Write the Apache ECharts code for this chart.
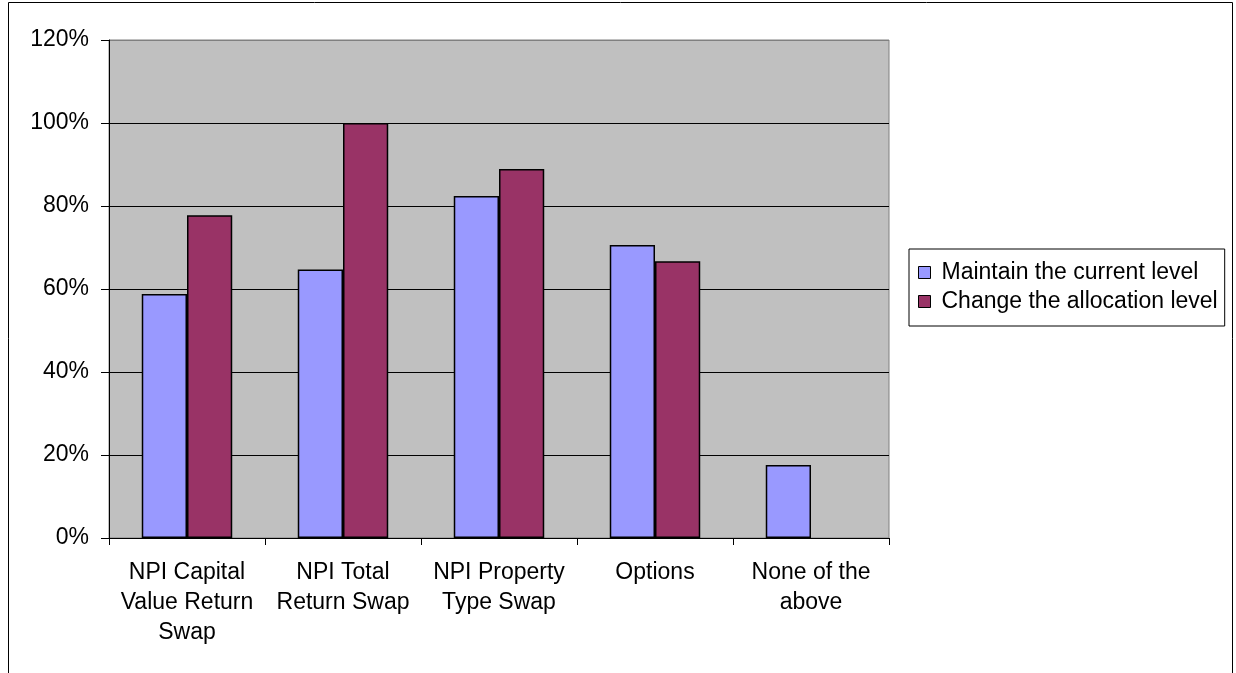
<!DOCTYPE html>
<html><head><meta charset="utf-8">
<script src="https://cdn.jsdelivr.net/npm/echarts@6/dist/echarts.min.js"></script>
<style>html,body{margin:0;padding:0;background:#fff}#c{width:1236px;height:673px}</style>
</head><body><div id="c"></div>
<script>
var categories = ["NPI Capital\nValue Return\nSwap", "NPI Total\nReturn Swap", "NPI Property\nType Swap", "Options", "None of the\nabove"];
var maintainValues = [58.8, 64.7, 82.4, 70.6, 17.6];
var changeValues = [77.8, 100, 88.9, 66.7, 0];
var seriesNames = ["Maintain the current level", "Change the allocation level"];
var yTicks = { min: 0, max: 120, interval: 20 };

var font = "'Liberation Sans', Arial, sans-serif";
function withZeroHidden(arr) {
  return arr.map(function (v) { return v === 0 ? { value: v, itemStyle: { borderWidth: 0 } } : v; });
}
var chart = echarts.init(document.getElementById('c'));
chart.setOption({
  animation: false,
  backgroundColor: '#fff',
  graphic: [{ type: 'rect', shape: { x: 8.5, y: 2.5, width: 1224, height: 700 }, style: { fill: 'none', stroke: '#000', lineWidth: 1 }, silent: true, z: 10 }],
  grid: { left: 109, top: 40, right: 347, bottom: 135, show: true, backgroundColor: '#C0C0C0', borderColor: '#808080', borderWidth: 1 },
  legend: {
    orient: 'vertical', left: 909, top: 249,
    padding: [12, 7, 13, 9], itemGap: 6,
    borderColor: '#000', borderWidth: 1, backgroundColor: '#fff',
    itemWidth: 12, itemHeight: 12, icon: 'rect',
    itemStyle: { borderColor: '#000', borderWidth: 1 },
    textStyle: { fontFamily: font, fontSize: 23, color: '#000', lineHeight: 23, padding: [0, 0, 0, 6] },
    data: seriesNames
  },
  xAxis: {
    type: 'category', data: categories,
    axisLine: { lineStyle: { color: '#000', width: 1 } },
    axisTick: { show: true, length: 7, lineStyle: { color: '#000' } },
    axisLabel: { fontFamily: font, fontSize: 23, color: '#000', lineHeight: 30, margin: 20, interval: 0 }
  },
  yAxis: {
    type: 'value', min: yTicks.min, max: yTicks.max, interval: yTicks.interval,
    axisLine: { show: true, lineStyle: { color: '#000', width: 1 } },
    axisTick: { show: true, inside: false, length: 8, lineStyle: { color: '#000' } },
    axisLabel: { fontFamily: font, fontSize: 23, color: '#000', margin: 20, formatter: '{value}%' },
    splitLine: { show: true, lineStyle: { color: ['#000', '#000', '#000', '#000', '#000', '#000', '#808080'], width: 1 } }
  },
  series: [
    { name: seriesNames[0], type: 'bar', data: withZeroHidden(maintainValues), barGap: '0%', barCategoryGap: '42%',
      itemStyle: { color: '#9999FF', borderColor: '#000', borderWidth: 1.5 } },
    { name: seriesNames[1], type: 'bar', data: withZeroHidden(changeValues), barGap: '0%', barCategoryGap: '42%',
      itemStyle: { color: '#993366', borderColor: '#000', borderWidth: 1.5 } }
  ]
});
</script></body></html>
